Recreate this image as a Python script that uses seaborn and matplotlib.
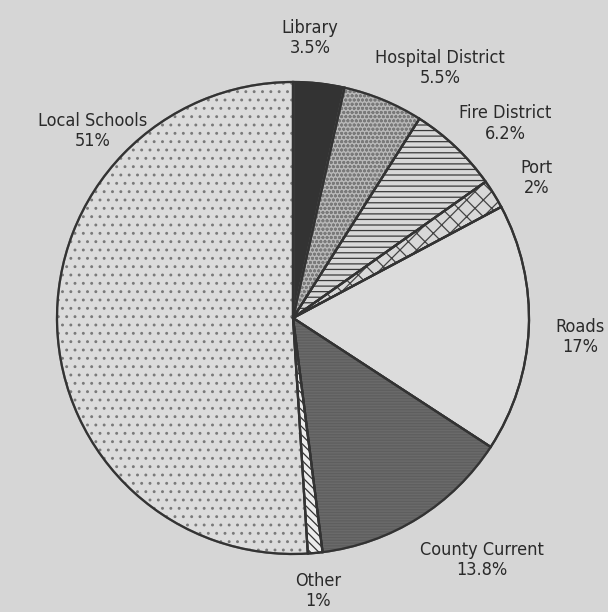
import matplotlib
matplotlib.use("Agg")
import matplotlib.pyplot as plt
from matplotlib import font_manager
import seaborn as sns
import numpy as np

# ---- data ----
categories = ["Library", "Hospital District", "Fire District", "Port", "Roads",
              "County Current", "Other", "Local Schools"]
shares = [3.5, 5.5, 6.2, 2.0, 17.0, 13.8, 1.0, 51.0]
pct_labels = ["3.5%", "5.5%", "6.2%", "2%", "17%", "13.8%", "1%", "51%"]

# ---- style ----
sns.set_theme(style="white")
names = {f.name for f in font_manager.fontManager.ttflist}
cond = [f for f in font_manager.fontManager.ttflist
        if f.name == "DejaVu Sans" and "ondensed" in str(f.stretch) + f.fname]
plt.rcParams["font.family"] = ["DejaVu Sans"]
stretch = "condensed" if cond else "normal"
print("condensed available:", bool(cond))
plt.rcParams["hatch.linewidth"] = 0.9

bg = "#d6d6d6"
fills = ["#333333", "#b8b8b8", "#d8d8d8", "#d8d8d8", "#dcdcdc",
         "#6a6a6a", "#ececec", "#dcdcdc"]
hatches = [None, "oooo", "---", "xx", None, "------", "\\\\\\\\", ".."]
hatch_cols = ["#333333", "#7a7a7a", "#3a3a3a", "#444444", "#333333",
              "#5e5e5e", "#333333", "#7a7a7a"]

fig = plt.figure(figsize=(6.08, 6.12), dpi=100, facecolor=bg)
ax = fig.add_axes([0, 0, 1, 1])
ax.set_facecolor(bg)

wedges, _ = ax.pie(shares, startangle=90, counterclock=False, radius=1.0,
                   colors=fills,
                   wedgeprops=dict(linewidth=1.6, edgecolor="#333333"))
for w, h, hc in zip(wedges, hatches, hatch_cols):
    if h:
        w.set_hatch(h)
        w.set_edgecolor(hc)
for w in wedges:
    outline = matplotlib.patches.Wedge(w.center, w.r, w.theta1, w.theta2,
                                       fill=False, edgecolor="#333333",
                                       linewidth=1.6)
    ax.add_patch(outline)

label_angles = [86.5, 59.6, 42.5, 30.0, -3.8, -52.0, -84.7, 137.0]
label_radii = [1.19, 1.23, 1.22, 1.19, 1.22, 1.30, 1.16, 1.16]
for name, pct, a, r in zip(categories, pct_labels, label_angles, label_radii):
    x = r * np.cos(np.radians(a))
    y = r * np.sin(np.radians(a))
    ax.text(x, y, f"{name}\n{pct}", ha="center", va="center",
            fontsize=13, color="#2a2a2a", linespacing=1.15,
            fontstretch=stretch)

R = 236.0
ax.set_xlim(-293 / R, (608 - 293) / R)
ax.set_ylim(-(612 - 318) / R, 318 / R)
ax.set_aspect("auto")
ax.axis("off")

fig.savefig("out.png", dpi=100, facecolor=bg)
